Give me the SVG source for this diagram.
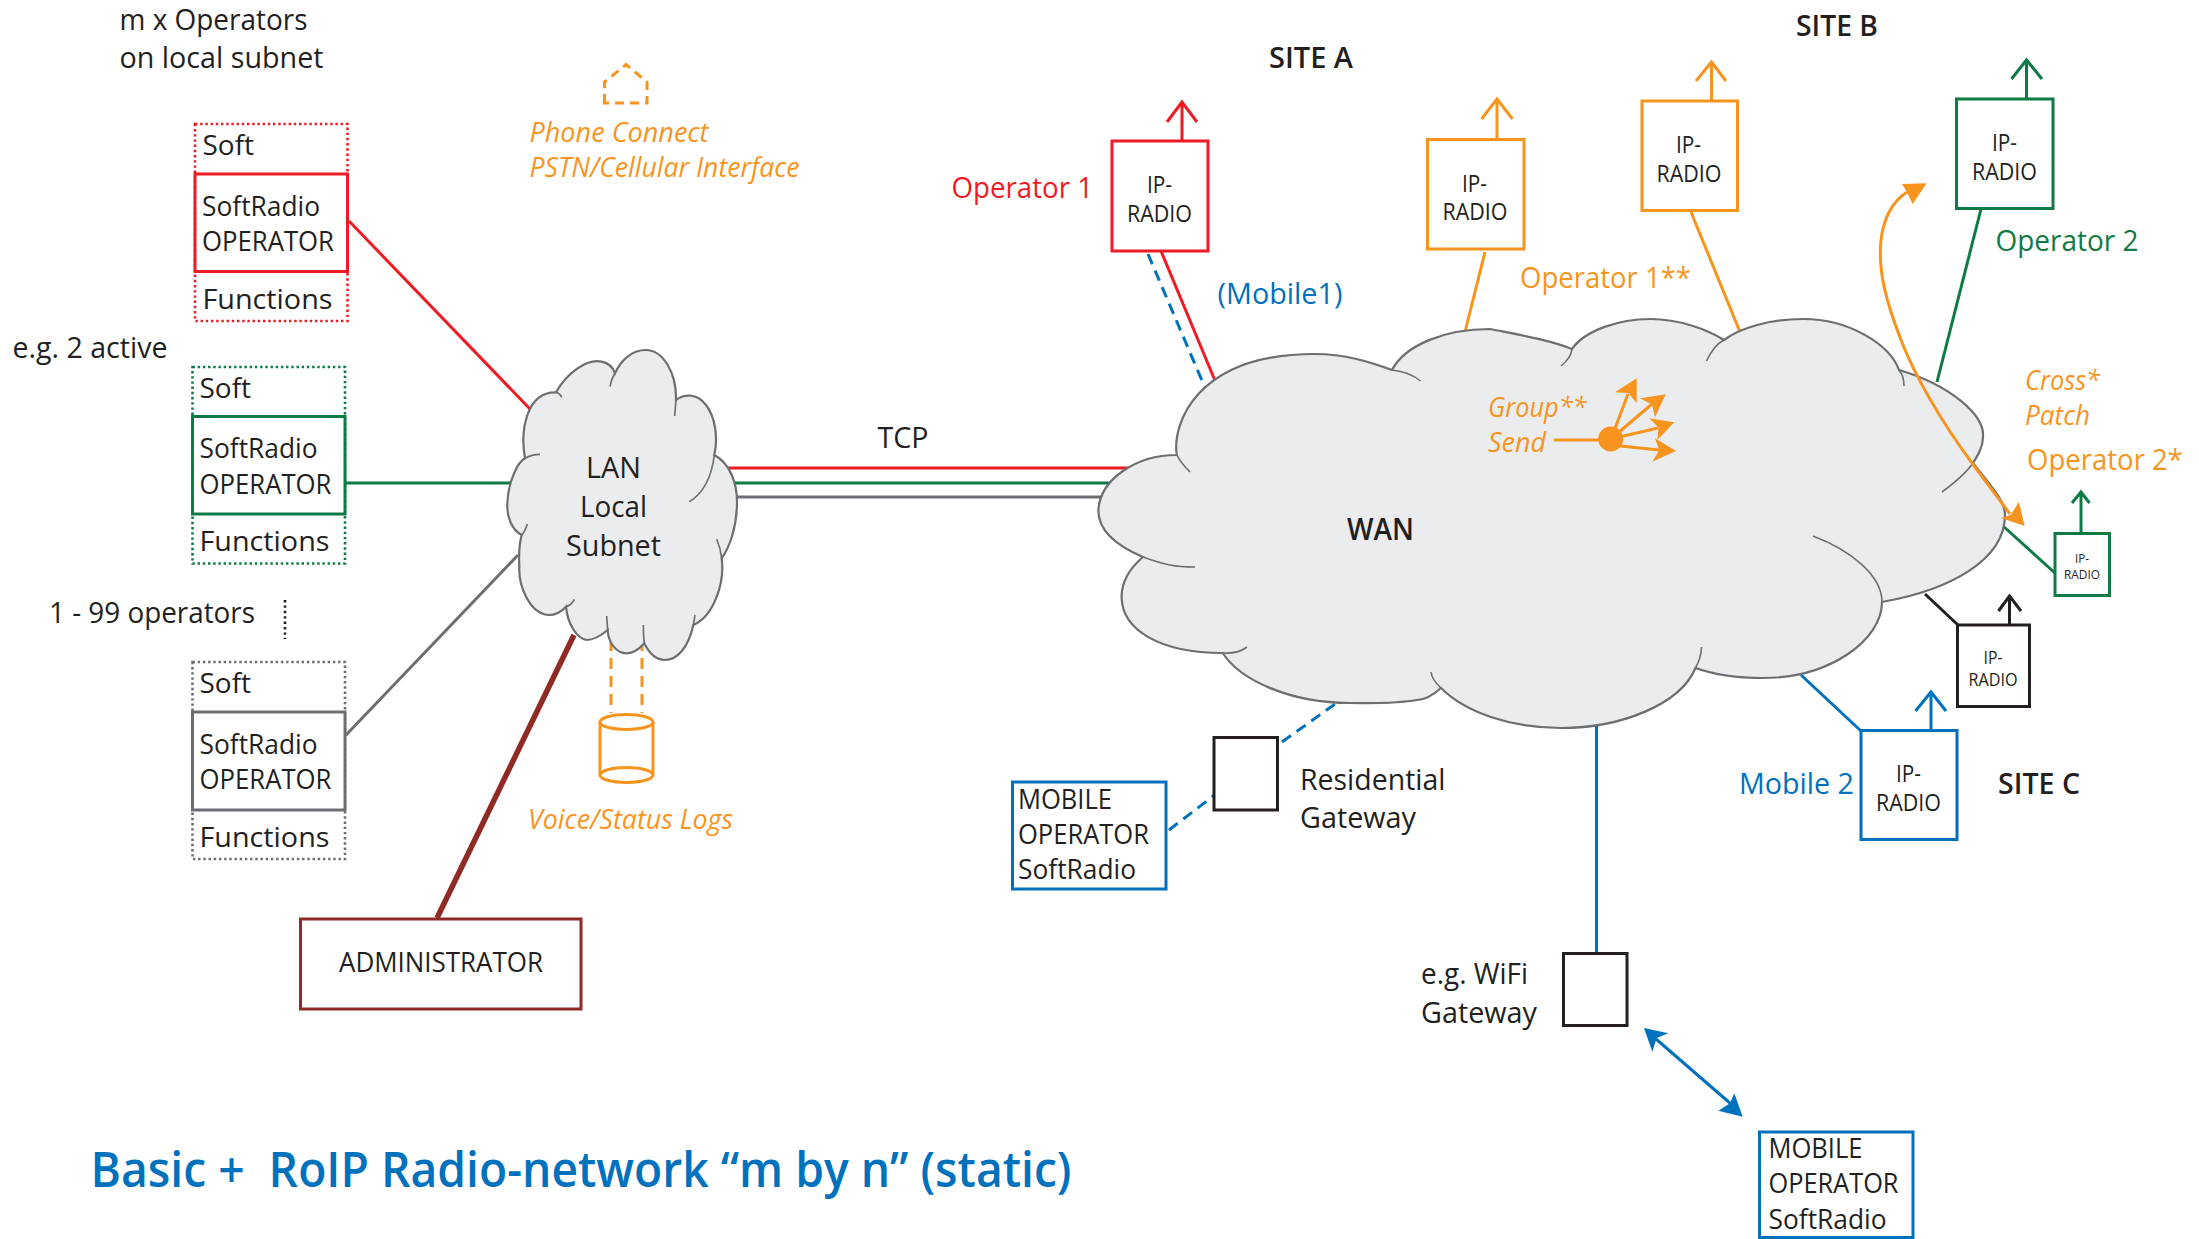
<svg xmlns="http://www.w3.org/2000/svg" width="2199" height="1239" viewBox="0 0 2199 1239">
<style>
text{font-family:"Open Sans","Noto Sans","Liberation Sans",sans-serif;font-size:29px;fill:#231f20}
.s{font-size:27px}
.r{font-size:24px}
.b{font-weight:600}
.i{font-style:italic}
.org{fill:#f7941e}.red{fill:#ed1c24}.grn{fill:#0f7a45}.blu{fill:#0071bc}
.box{fill:#fff;stroke-width:3}
.dot{fill:#fff;stroke-width:2.6;stroke-dasharray:2.4 2.8}
.ln{fill:none;stroke-width:3}
.sr{stroke:#ed1c24}.sg{stroke:#0f7a45}.sy{stroke:#6d6e71}.so{stroke:#f7941e}.sb{stroke:#0071bc}.sk{stroke:#231f20}.sm{stroke:#8f2a25}
.cloud{fill:#ebecee;stroke:#6d6e71;stroke-width:2.2}
.tail{fill:none;stroke:#6d6e71;stroke-width:1.6}
.dash{stroke-dasharray:11 7}
</style>

<g id="connectors">
<path class="ln sr" d="M349,221L530,409"/>
<path class="ln sg" d="M345,483H510"/>
<path class="ln sy" d="M346,735L518,555"/>
<path class="ln sm" style="stroke-width:5.5" d="M437,918L574,635"/>
<path class="ln sr" d="M720,468H1130"/>
<path class="ln sg" d="M720,483H1115"/>
<path class="ln sy" d="M720,497H1105"/>
<path class="ln so dash" d="M611,640V713M642,640V713"/>
<path class="ln sr" d="M1161,251L1216,383"/>
<path class="ln sb dash" d="M1148,254L1206,390"/>
<path class="ln so" d="M1485,252L1465,332"/>
<path class="ln so" d="M1691,212L1740,332"/>
<path class="ln sg" d="M1981,209L1937,382"/>
<path class="ln sg" d="M2003,526L2055,573"/>
<path class="ln sk" d="M1925,594L1958,625"/>
<path class="ln sb" d="M1801,675L1861,731"/>
<path class="ln sb" d="M1596.5,725V953"/>
<path class="ln sb dash" d="M1169,830L1214,795.500"/>
<path class="ln sb dash" d="M1282,742L1337,702.600"/>
<path class="ln sb" d="M1656,1039L1731,1104"/>
<path class="ln sk" style="stroke-width:2.6;stroke-dasharray:2.4 3" d="M285,600V639"/>
</g>

<g id="lan-cloud">
<g transform="translate(480,320) scale(0.33333)">
<path class="cloud" style="stroke-width:6.6" d="M135,415C120,330 140,215 228,217C260,160 320,115 365,125C390,130 400,145 405,160C425,115 460,90 497,90C550,90 590,160 588,240C610,222 650,218 678,255C705,290 715,350 703,405C750,430 772,490 771,550C770,620 750,680 725,715C735,790 700,890 640,915C625,985 590,1020 555,1020C525,1020 505,995 493,970C475,990 455,1000 440,1000C410,1000 385,970 383,930C365,945 340,960 320,960C290,955 262,910 258,860C240,880 220,885 205,885C150,880 115,800 118,740C116,700 118,670 125,645C95,630 80,590 82,550C85,480 115,425 135,415Z"/>
<path class="tail" style="stroke-width:5" d="M228,217Q240,220 245,232M405,160Q395,175 390,200M588,240Q586,265 584,288M703,405C695,470 670,520 628,545M725,715Q722,685 710,657M645,885L640,915M490,915Q490,945 493,970M380,888L383,930M258,860Q275,855 283,838M125,645Q135,635 142,612M135,415Q155,403 180,403"/>
</g>
<text style="font-size:30px" x="586" y="478" textLength="55" lengthAdjust="spacingAndGlyphs">LAN</text>
<text style="font-size:30px" x="580" y="516.500" textLength="67" lengthAdjust="spacingAndGlyphs">Local</text>
<text style="font-size:30px" x="566" y="555.500" textLength="95" lengthAdjust="spacingAndGlyphs">Subnet</text>
</g>

<g id="wan-cloud">
<path class="cloud" d="M1176.8,455C1172,425 1195,354 1315,354C1345,354 1370,362 1392,370C1405,345 1445,329 1490,329C1520,335 1550,340 1572,349C1585,330 1620,319 1650,319C1680,319 1708,330 1724,340C1740,328 1770,319 1803,319C1850,319 1890,345 1899,370C1950,385 1985,415 1983,437C1983,447 1978,455 1973,463C1990,485 2005,500 2005,515C2005,560 1950,590 1882,602C1882,640 1830,678 1763,678C1740,678 1715,675 1695.5,668C1680,705 1620,728 1561,728C1510,728 1465,712 1441,688C1432,696 1425,700 1417,700C1395,704 1370,703 1350,703C1290,703 1240,680 1222.7,653C1160,653 1122,630 1121.6,597C1121.6,580 1130,568 1143,557C1115,545 1098,530 1098.4,510C1100,480 1135,455 1177,455Z"/>
<path class="tail" d="M1177,455Q1180,462 1190,472M1392,370Q1410,372 1420.5,381M1572,349Q1571,358 1561,366M1724,340Q1714,345 1706.5,361M1899,370Q1904,376 1904,386M1973,463Q1965,475 1942,492M1813,536C1850,550 1882,575 1882,602M1701.6,647Q1701,658 1695.5,668M1431,672Q1432,680 1441,688M1223,653Q1238,654 1247,647M1143,557C1165,565 1175,567 1195,567"/>
<text class="b" style="font-size:30px" x="1347" y="540" textLength="67" lengthAdjust="spacingAndGlyphs">WAN</text>
</g>

<g id="op-red">
<rect class="dot sr" x="195" y="124" width="152.500" height="197"/>
<rect class="box sr" x="195" y="174" width="152.500" height="97.500"/>
<text class="s" x="202.500" y="154.500" textLength="51.500" lengthAdjust="spacingAndGlyphs">Soft</text>
<text class="s" x="202" y="216" textLength="118" lengthAdjust="spacingAndGlyphs">SoftRadio</text>
<text class="s" x="202" y="251" textLength="132" lengthAdjust="spacingAndGlyphs">OPERATOR</text>
<text class="s" x="202.500" y="308.500" textLength="130" lengthAdjust="spacingAndGlyphs">Functions</text>
</g>
<g id="op-green">
<rect class="dot sg" x="192.500" y="367" width="152.500" height="196.500"/>
<rect class="box sg" x="192.500" y="416.500" width="152.500" height="97.500"/>
<text class="s" x="199.500" y="397.500" textLength="51.500" lengthAdjust="spacingAndGlyphs">Soft</text>
<text class="s" x="199.500" y="458" textLength="118" lengthAdjust="spacingAndGlyphs">SoftRadio</text>
<text class="s" x="199.500" y="493.500" textLength="132" lengthAdjust="spacingAndGlyphs">OPERATOR</text>
<text class="s" x="199.500" y="550.500" textLength="130" lengthAdjust="spacingAndGlyphs">Functions</text>
</g>
<g id="op-gray">
<rect class="dot sy" x="192.500" y="662" width="152.500" height="197"/>
<rect class="box sy" x="192.500" y="712" width="152.500" height="98"/>
<text class="s" x="199.500" y="693" textLength="51.500" lengthAdjust="spacingAndGlyphs">Soft</text>
<text class="s" x="199.500" y="753.500" textLength="118" lengthAdjust="spacingAndGlyphs">SoftRadio</text>
<text class="s" x="199.500" y="789" textLength="132" lengthAdjust="spacingAndGlyphs">OPERATOR</text>
<text class="s" x="199.500" y="847" textLength="130" lengthAdjust="spacingAndGlyphs">Functions</text>
</g>
<g id="labels-left">
<text x="119.500" y="30" textLength="188" lengthAdjust="spacingAndGlyphs">m x Operators</text>
<text x="119.500" y="67.500" textLength="204" lengthAdjust="spacingAndGlyphs">on local subnet</text>
<text x="12.500" y="358" textLength="155" lengthAdjust="spacingAndGlyphs">e.g. 2 active</text>
<text x="49" y="622.500" textLength="206" lengthAdjust="spacingAndGlyphs">1 - 99 operators</text>
<text x="877.500" y="448" textLength="51" lengthAdjust="spacingAndGlyphs">TCP</text>
</g>
<g id="administrator">
<rect class="box sm" x="300.500" y="919" width="280.500" height="90"/>
<text class="s" x="339" y="972" textLength="204" lengthAdjust="spacingAndGlyphs">ADMINISTRATOR</text>
</g>
<g id="phone-connect">
<path class="ln so" style="stroke-dasharray:9 6" d="M604.500,103V82L626,64.500L647,82V103Z"/>
<text class="s i org" x="529.500" y="142" textLength="179" lengthAdjust="spacingAndGlyphs">Phone Connect</text>
<text class="s i org" x="529.500" y="177" textLength="270" lengthAdjust="spacingAndGlyphs">PSTN/Cellular Interface</text>
</g>
<g id="logs">
<path class="ln so" d="M600,722V775M653,722V775"/>
<ellipse class="ln so" cx="626.500" cy="722" rx="26.500" ry="7.500"/>
<ellipse class="ln so" cx="626.500" cy="775" rx="26.500" ry="7.500"/>
<text class="s i org" x="528" y="829" textLength="205" lengthAdjust="spacingAndGlyphs">Voice/Status Logs</text>
</g>

<g id="radio-red">
<path class="ln sr" d="M1182,141V102M1167,122L1182,102L1197,122"/>
<rect class="box sr" x="1112" y="141" width="96" height="110"/>
<text class="r" x="1147" y="193" textLength="25" lengthAdjust="spacingAndGlyphs">IP-</text>
<text class="r" x="1127" y="222" textLength="65" lengthAdjust="spacingAndGlyphs">RADIO</text>
<text class="red" x="951.500" y="198" textLength="141.500" lengthAdjust="spacingAndGlyphs">Operator 1</text>
<text class="blu" x="1217.500" y="303.500" textLength="125" lengthAdjust="spacingAndGlyphs">(Mobile1)</text>
</g>
<g id="radio-orange-a">
<path class="ln so" d="M1497,139V99M1481.500,119L1497,99L1512.500,119"/>
<rect class="box so" x="1427.500" y="139.500" width="96.500" height="109.500"/>
<text class="r" x="1462" y="192" textLength="25" lengthAdjust="spacingAndGlyphs">IP-</text>
<text class="r" x="1442.500" y="220" textLength="65" lengthAdjust="spacingAndGlyphs">RADIO</text>
<text class="org" x="1520" y="288" textLength="171" lengthAdjust="spacingAndGlyphs">Operator 1**</text>
</g>
<g id="radio-orange-b">
<path class="ln so" d="M1711.500,101V62M1696,81L1711.500,62L1726,81"/>
<rect class="box so" x="1642" y="101" width="95.500" height="109.500"/>
<text class="r" x="1676" y="153" textLength="25" lengthAdjust="spacingAndGlyphs">IP-</text>
<text class="r" x="1656.500" y="182" textLength="65" lengthAdjust="spacingAndGlyphs">RADIO</text>
</g>
<g id="radio-green">
<path class="ln sg" d="M2026.500,99V60M2011.500,79L2026.500,60L2042,79"/>
<rect class="box sg" x="1956.500" y="99" width="96.500" height="109.500"/>
<text class="r" x="1992" y="151" textLength="25" lengthAdjust="spacingAndGlyphs">IP-</text>
<text class="r" x="1972" y="180" textLength="65" lengthAdjust="spacingAndGlyphs">RADIO</text>
<text class="grn" x="1995.500" y="251" textLength="143" lengthAdjust="spacingAndGlyphs">Operator 2</text>
</g>
<g id="radio-green-small">
<path class="ln sg" d="M2081,533V492M2072,503L2081,492L2089.500,503"/>
<rect class="box sg" x="2055" y="533.500" width="54.500" height="62"/>
<text style="font-size:13.500px" x="2075" y="562.500" textLength="14" lengthAdjust="spacingAndGlyphs">IP-</text>
<text style="font-size:13.500px" x="2064" y="578.500" textLength="36" lengthAdjust="spacingAndGlyphs">RADIO</text>
<text class="org" x="2027" y="469.500" textLength="156" lengthAdjust="spacingAndGlyphs">Operator 2*</text>
<text class="s i org" x="2025" y="390" textLength="75" lengthAdjust="spacingAndGlyphs">Cross*</text>
<text class="s i org" x="2025" y="424.500" textLength="65" lengthAdjust="spacingAndGlyphs">Patch</text>
</g>
<g id="radio-black">
<path class="ln sk" d="M2009.500,625V596M1998.500,611L2009.500,596L2021,611"/>
<rect class="box sk" x="1957.500" y="625" width="72" height="81.500"/>
<text style="font-size:18px" x="1983.500" y="663.500" textLength="19" lengthAdjust="spacingAndGlyphs">IP-</text>
<text style="font-size:18px" x="1968.500" y="685.500" textLength="49" lengthAdjust="spacingAndGlyphs">RADIO</text>
</g>
<g id="radio-blue">
<path class="ln sb" d="M1931,731V692M1915.500,711L1931,692L1946,711"/>
<rect class="box sb" x="1861" y="730.500" width="96" height="109"/>
<text class="r" x="1896" y="781.500" textLength="25" lengthAdjust="spacingAndGlyphs">IP-</text>
<text class="r" x="1876" y="810.500" textLength="65" lengthAdjust="spacingAndGlyphs">RADIO</text>
<text class="blu" x="1739" y="794" textLength="115" lengthAdjust="spacingAndGlyphs">Mobile 2</text>
</g>
<g id="site-labels">
<text class="b" x="1269" y="67.500" textLength="84" lengthAdjust="spacingAndGlyphs">SITE A</text>
<text class="b" x="1796" y="35.500" textLength="82" lengthAdjust="spacingAndGlyphs">SITE B</text>
<text class="b" x="1998" y="794" textLength="82" lengthAdjust="spacingAndGlyphs">SITE C</text>
</g>

<g id="group-send">
<text class="s i org" x="1488" y="417" textLength="98.500" lengthAdjust="spacingAndGlyphs">Group**</text>
<text class="s i org" x="1488" y="452" textLength="58" lengthAdjust="spacingAndGlyphs">Send</text>
<path class="ln so" d="M1554,440H1600M1611,439L1628,394M1611,439L1652,404M1611,439L1658,428M1611,445L1659,450"/>
<circle cx="1610.700" cy="439" r="12.500" fill="#f7941e"/>
<g fill="#f7941e">
<polygon points="1636.700,378.300 1615,392.300 1628.500,393 1636.700,403.300"/>
<polygon points="1665.700,394.300 1640,398.300 1652,404.400 1655,417.300"/>
<polygon points="1674.300,422.300 1649.300,418.300 1658.500,427.500 1657.300,440"/>
<polygon points="1676,451 1655,438.300 1659.300,450.300 1652.300,461.700"/>
</g>
</g>

<g id="residential-gateway">
<rect class="box sk" x="1214" y="737.500" width="63.500" height="72.500"/>
<text x="1300" y="790" textLength="145.500" lengthAdjust="spacingAndGlyphs">Residential</text>
<text x="1300" y="827.500" textLength="116" lengthAdjust="spacingAndGlyphs">Gateway</text>
</g>
<g id="mobile-operator-1">
<rect class="box sb" x="1012.500" y="782" width="153.500" height="107"/>
<text class="s" x="1018" y="809" textLength="94" lengthAdjust="spacingAndGlyphs">MOBILE</text>
<text class="s" x="1018" y="843.500" textLength="131" lengthAdjust="spacingAndGlyphs">OPERATOR</text>
<text class="s" x="1018" y="879" textLength="118" lengthAdjust="spacingAndGlyphs">SoftRadio</text>
</g>
<g id="wifi-gateway">
<rect class="box sk" x="1563.500" y="953.500" width="63.500" height="72"/>
<text x="1421" y="983.500" textLength="107" lengthAdjust="spacingAndGlyphs">e.g. WiFi</text>
<text x="1421" y="1022.500" textLength="116" lengthAdjust="spacingAndGlyphs">Gateway</text>
</g>
<g id="mobile-operator-2">
<rect class="box sb" x="1759.500" y="1132" width="153.500" height="105.500"/>
<text class="s" x="1768.500" y="1157.500" textLength="94" lengthAdjust="spacingAndGlyphs">MOBILE</text>
<text class="s" x="1768.500" y="1192.500" textLength="130" lengthAdjust="spacingAndGlyphs">OPERATOR</text>
<text class="s" x="1768.500" y="1228.500" textLength="118" lengthAdjust="spacingAndGlyphs">SoftRadio</text>
</g>

<g id="overlay-connectors">
<path class="ln so" d="M2010,514L1972,463C1940,420 1915,375 1903,345C1885,300 1878,270 1881,240C1884,215 1895,200 1907,192"/>
<g>
<polygon fill="#f7941e" points="1926.600,183.300 1902,184 1907,192 1912.600,204"/>
<polygon fill="#f7941e" points="2024.600,526 2019,501.700 2010.600,515 2001,518"/>
<polygon fill="#0071bc" points="1644,1028 1668.300,1033.300 1656.700,1038 1652.300,1051.700"/>
<polygon fill="#0071bc" points="1742.700,1116.700 1734.300,1093.300 1730,1103.300 1718.300,1110.700"/>
</g>
</g>

<text class="b blu" style="font-size:48px" x="90.500" y="1187" textLength="981" lengthAdjust="spacingAndGlyphs" xml:space="preserve">Basic +  RoIP Radio-network “m by n” (static)</text>
</svg>
